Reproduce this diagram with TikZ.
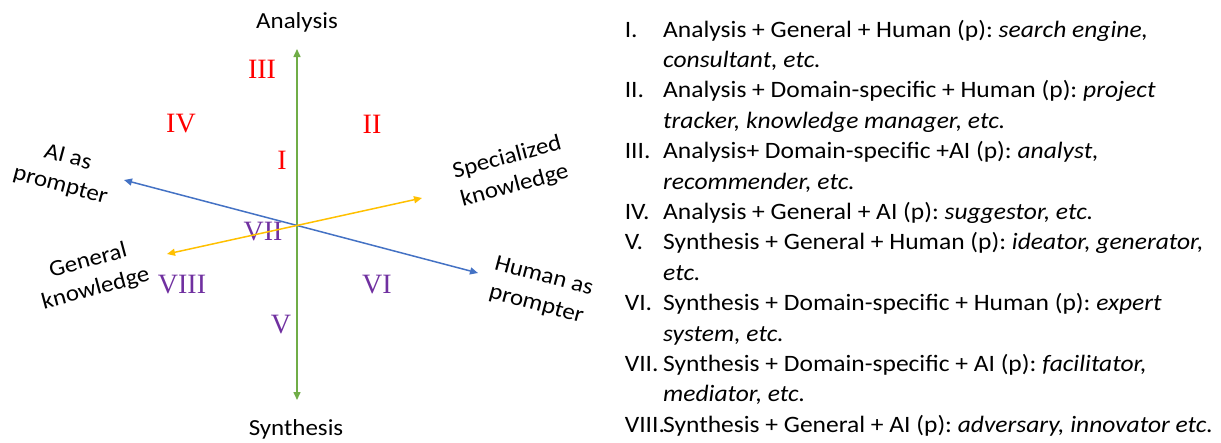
\documentclass[tikz,border=0pt]{standalone}
\usepackage{fontspec}
\setmainfont{Carlito}[FakeStretch=1.085]
\newfontfamily\numfont{Liberation Serif}
\usetikzlibrary{arrows.meta,positioning}
\frenchspacing
\definecolor{axisgreen}{HTML}{70AD47}
\definecolor{axisblue}{HTML}{4472C4}
\definecolor{axisyellow}{HTML}{FFC000}
\definecolor{numred}{HTML}{FF0000}
\definecolor{numpurple}{HTML}{7030A0}
\tikzset{
  axis/.style={line width=1.5pt, {Triangle[length=8pt,width=7pt]}-{Triangle[length=8pt,width=7pt]}},
  axislabel/.style={font=\fontsize{23}{29}\selectfont, align=center, inner sep=0},
  region/.style={font=\numfont\fontsize{28}{28}\selectfont, inner sep=0},
  textline/.style={font=\fontsize{23.5}{30}\selectfont, inner sep=0, text height=21pt, text depth=9pt, anchor=north west},
  numlabel/.style={textline, text width=38pt, align=left}
}
\begin{document}
\begin{tikzpicture}[x=1pt,y=-1pt]
    \useasboundingbox (0,0) rectangle (1221,442);

    \node(ana) [axislabel, anchor=base] at (297,28) {Analysis};
    \node(syn) [axislabel, anchor=base] at (296,435) {Synthesis};
    \node(ai) [axislabel, rotate=-15] at (64,172) {AI as\\prompter};
    \node(gen) [axislabel, rotate=15] at (92,275) {General\\knowledge};
    \node(spec) [axislabel, rotate=15] at (511,172) {Specialized\\knowledge};
    \node(hum) [axislabel, rotate=-15] at (540,291) {Human as\\prompter};

    \node(r3) [region, numred] at (262,69) {III};
    \node(r4) [region, numred] at (181,124) {IV};
    \node(r2) [region, numred] at (372,124) {II};
    \node(r1) [region, numred] at (282,160) {I};
    \node(r7) [region, numpurple] at (263,232) {VII};
    \node(r8) [region, numpurple] at (182,285) {VIII};
    \node(r6) [region, numpurple] at (377,285) {VI};
    \node(r5) [region, numpurple] at (281,325) {V};

    \coordinate(gtop) at (297,49);
    \coordinate(gbot) at (297,400);
    \coordinate(bl) at (124,180);
    \coordinate(br) at (478,273);
    \coordinate(yl) at (167,254);
    \coordinate(yr) at (422,198);

    \draw[axis, axisgreen] (gbot) -- (gtop);
    \draw[axis, axisblue] (bl) -- (br);
    \draw[axis, axisyellow] (yl) -- (yr);

    \node(t1) [textline, anchor=base west] at (663,37) {Analysis + General + Human (p): \textit{search engine,}};
    \node(t2) [textline, below=0pt of t1.south west, anchor=north west] {\textit{consultant, etc.}};
    \node(t3) [textline, below=0pt of t2.south west, anchor=north west] {Analysis + Domain-specific + Human (p): \textit{project}};
    \node(t4) [textline, below=0pt of t3.south west, anchor=north west] {\textit{tracker, knowledge manager, etc.}};
    \node(t5) [textline, below=0pt of t4.south west, anchor=north west] {Analysis+ Domain-specific +AI (p): \textit{analyst,}};
    \node(t6) [textline, below=0pt of t5.south west, anchor=north west] {\textit{recommender, etc.}};
    \node(t7) [textline, below=0pt of t6.south west, anchor=north west] {Analysis + General + AI (p): \textit{suggestor, etc.}};
    \node(t8) [textline, below=0pt of t7.south west, anchor=north west] {Synthesis + General + Human (p): \textit{ideator, generator,}};
    \node(t9) [textline, below=0pt of t8.south west, anchor=north west] {\textit{etc.}};
    \node(t10) [textline, below=0pt of t9.south west, anchor=north west] {Synthesis + Domain-specific + Human (p): \textit{expert}};
    \node(t11) [textline, below=0pt of t10.south west, anchor=north west] {\textit{system, etc.}};
    \node(t12) [textline, below=0pt of t11.south west, anchor=north west] {Synthesis + Domain-specific + AI (p): \textit{facilitator,}};
    \node(t13) [textline, below=0pt of t12.south west, anchor=north west] {\textit{mediator, etc.}};
    \node(t14) [textline, below=0pt of t13.south west, anchor=north west] {Synthesis + General + AI (p): \textit{adversary, innovator etc.}};

    \node(n1) [numlabel, left=0pt of t1] {I.};
    \node(n2) [numlabel, left=0pt of t3] {II.};
    \node(n3) [numlabel, left=0pt of t5] {III.};
    \node(n4) [numlabel, left=0pt of t7] {IV.};
    \node(n5) [numlabel, left=0pt of t8] {V.};
    \node(n6) [numlabel, left=0pt of t10] {VI.};
    \node(n7) [numlabel, left=0pt of t12] {VII.};
    \node(n8) [numlabel, left=0pt of t14] {VIII.};
\end{tikzpicture}
\end{document}
